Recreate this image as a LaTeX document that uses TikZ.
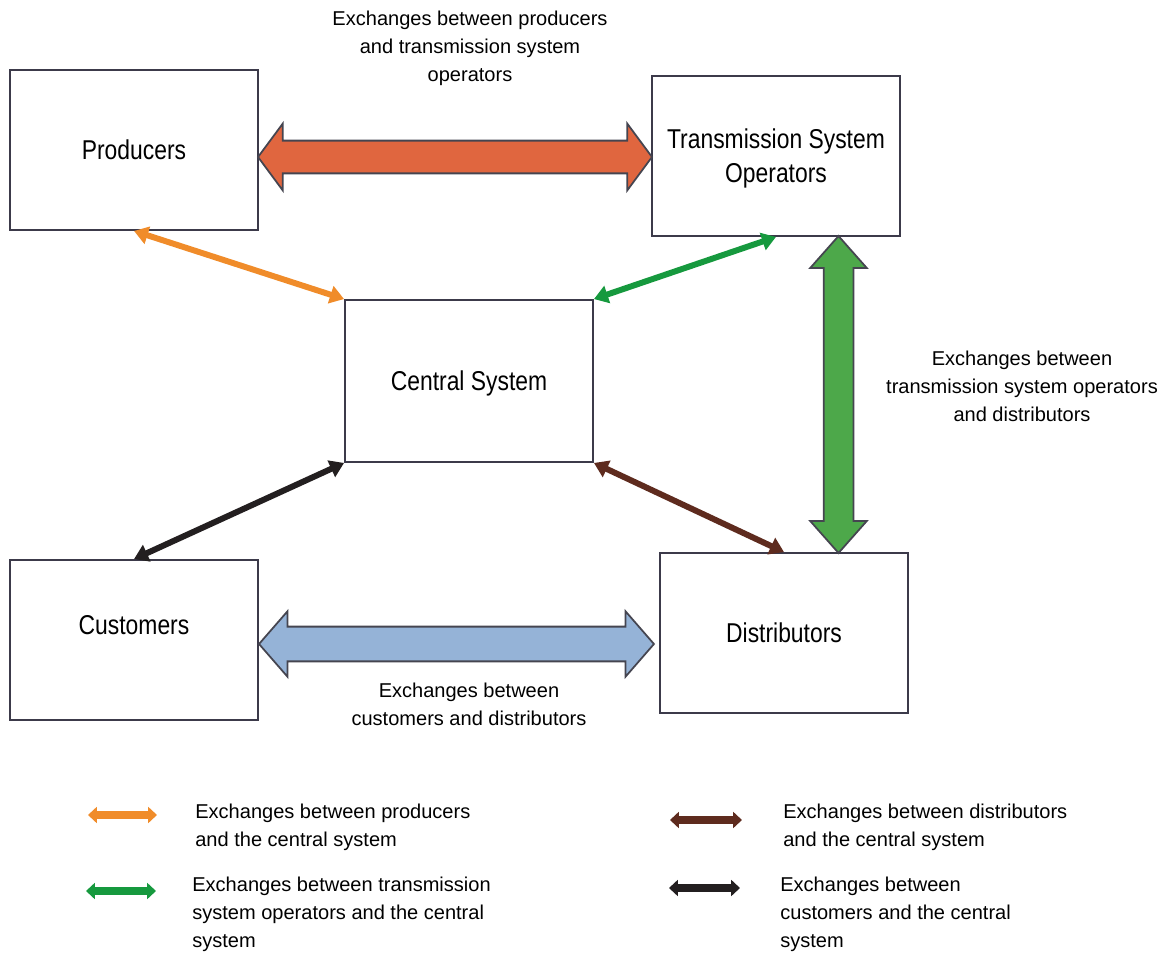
\documentclass[tikz,border=0pt]{standalone}
\usepackage{fontspec}
\setmainfont{Liberation Sans}
\newfontfamily\boxfont{Liberation Sans}[FakeStretch=0.84]
\usetikzlibrary{arrows.meta,shapes.arrows}

\definecolor{box edge}{HTML}{3C3A4A}
\definecolor{arrow edge}{HTML}{454550}
\definecolor{prodtso}{HTML}{E0663F}
\definecolor{tsodist}{HTML}{4DA84A}
\definecolor{custdist}{HTML}{95B3D7}
\definecolor{prodcs}{HTML}{F08C2A}
\definecolor{tsocs}{HTML}{16993E}
\definecolor{distcs}{HTML}{5E2B1E}
\definecolor{custcs}{HTML}{231F20}

\tikzset{
  box/.style={draw=box edge, line width=1.1pt, fill=white, minimum width=4.96cm,
    minimum height=3.2cm, inner sep=0pt, align=center, text depth=0pt,
    font=\boxfont\fontsize{15.5}{19.4}\selectfont},
  boxlabel/.style={font=\boxfont\fontsize{15.5}{19.4}\selectfont, inner sep=0pt},
  bigarrow/.style={double arrow, draw=arrow edge, line width=1pt, inner xsep=0pt,
    double arrow head indent=0pt},
  link/.style={line width=3.4pt, {Triangle[length=8pt,width=10pt]}-{Triangle[length=8pt,width=10pt]}},
  key/.style={line width=4pt, {Triangle[length=5pt,width=9pt]}-{Triangle[length=5pt,width=9pt]}},
  note/.style={font=\fontsize{11.4}{16}\selectfont, align=center, inner sep=0pt},
  keynote/.style={note, align=left, anchor=west}
}

\begin{document}
\begin{tikzpicture}[x=0.02cm, y=-0.02cm]
  \useasboundingbox (0,0) rectangle (1167,956);

  % boxes
  \node[box] (prod) at (134,150) {Producers};
  \node[box] (tso)  at (776,156) {Transmission System\\Operators};
  \node[box, minimum height=3.24cm] (cs) at (469,381) {Central System};
  \node[box, label={[boxlabel, yshift=0.3cm]center:Customers}] (cust) at (134,640) {};
  \node[box] (dist) at (784,633) {Distributors};

  % big exchanges
  \node[bigarrow, fill=prodtso, inner ysep=0.31cm, double arrow head extend=0.34cm,
    double arrow tip angle=107, minimum height=7.88cm] (pt) at (455,157) {};
  \node[bigarrow, fill=custdist, inner ysep=0.33cm, double arrow head extend=0.31cm,
    double arrow tip angle=98, minimum height=7.9cm] (cd) at (456.5,644) {};
  \node[bigarrow, fill=tsodist, rotate=90, inner ysep=0.28cm, double arrow head extend=0.27cm,
    double arrow tip angle=83, minimum height=6.34cm] (td) at (838.5,394.5) {};

  % links to the central system
  \draw[link, prodcs] (prod.south) -- (cs.north west);
  \draw[link, tsocs] (tso.south) -- (cs.north east);
  \draw[link, custcs] (cust.north) -- (cs.south west);
  \draw[link, distcs] (cs.south east) -- (dist.north);

  \node[note] (ptnote) at (470,48) {Exchanges between producers\\and transmission system\\operators};
  \node[note] (tdnote) at (1022,386) {Exchanges between\\transmission system operators\\and distributors};
  \node[note] (cdnote) at (469,704) {Exchanges between\\customers and distributors};

  % legend
  \coordinate (k1a) at (88,815);  \coordinate (k1b) at (157,815);
  \coordinate (k2a) at (86,891);  \coordinate (k2b) at (156,891);
  \coordinate (k3a) at (670,820); \coordinate (k3b) at (742,820);
  \coordinate (k4a) at (669,888); \coordinate (k4b) at (740,888);
  \draw[key, prodcs] (k1a) -- (k1b);
  \draw[key, tsocs] (k2a) -- (k2b);
  \draw[key, distcs] (k3a) -- (k3b);
  \draw[key, custcs] (k4a) -- (k4b);
  \node[keynote] (k1) at (195,827) {Exchanges between producers\\and the central system};
  \node[keynote] (k2) at (192,914) {Exchanges between transmission\\system operators and the central\\system};
  \node[keynote] (k3) at (783,827) {Exchanges between distributors\\and the central system};
  \node[keynote] (k4) at (780,914) {Exchanges between\\customers and the central\\system};
\end{tikzpicture}
\end{document}
